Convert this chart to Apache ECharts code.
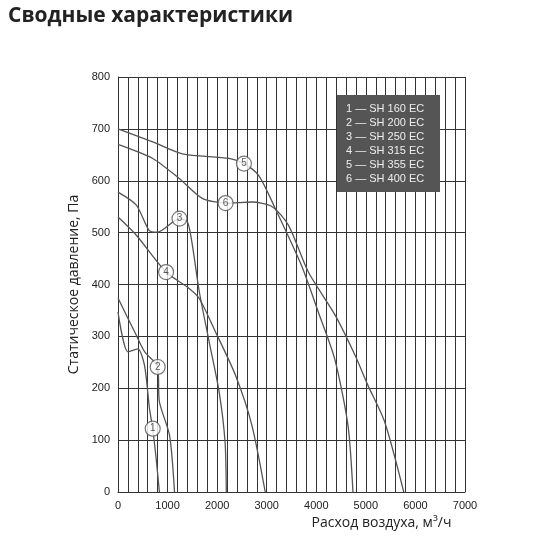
<!DOCTYPE html><html><head><meta charset="utf-8"><script src="https://cdn.jsdelivr.net/npm/echarts@6/dist/echarts.min.js"></script></head><body style="margin:0"><div id="c" style="width:550px;height:550px"></div><script>
const names=['1 — SH 160 EC','2 — SH 200 EC','3 — SH 250 EC','4 — SH 315 EC','5 — SH 355 EC','6 — SH 400 EC'];
const c1=[[0,347],[200,270],[400,276],[535,244],[635,161],[700,122],[770,64],[835,0]];
const c2=[[0,374],[370,302],[540,270],[800,241],[835,174],[1040,109],[1140,0]];
const c3=[[0,578],[370,553],[630,504],[800,501],[1240,527],[1400,521],[1500,476],[1640,386],[1840,289],[2040,193],[2160,96],[2185,0]];
const c4=[[0,530],[370,495],[970,424],[1440,392],[1640,373],[1970,308],[2370,225],[2700,129],[2970,0]];
const c5=[[0,700],[700,675],[1300,652],[2240,643],[2540,633],[2840,610],[3170,547],[3700,437],[4040,347],[4370,257],[4640,128],[4740,0]];
const c6=[[0,670],[700,643],[1240,604],[1700,566],[2170,557],[2700,559],[3110,550],[3440,514],[3840,424],[4380,341],[4780,264],[5040,206],[5380,135],[5765,0]];
const labelPts=[[700,122,'1'],[800,241,'2'],[1240,527,'3'],[970,424,'4'],[2540,633,'5'],[2170,557,'6']];
const curves=[c1,c2,c3,c4,c5,c6];
const ch=echarts.init(document.getElementById('c'));
const series=curves.map(d=>({type:'line',data:d,smooth:0.25,symbol:'none',lineStyle:{color:'#555',width:1.3},z:3}));
series.push({type:'scatter',data:labelPts,symbol:'circle',symbolSize:15,itemStyle:{color:'#fff',borderColor:'#555',borderWidth:1.2},label:{show:true,position:'inside',formatter:p=>p.value[2],fontSize:10,color:'#333',fontFamily:'Liberation Sans'},z:5});
ch.setOption({animation:false,
title:{text:'Сводные характеристики',left:3,top:1,textStyle:{fontFamily:'Open Sans',fontSize:21,fontWeight:'bold',color:'#222'}},
grid:{left:118,right:85,top:77,bottom:58},
xAxis:{type:'value',min:0,max:7000,interval:200,name:'Расход воздуха, м³/ч',nameLocation:'middle',nameGap:24,nameTextStyle:{fontSize:14,color:'#222',padding:[0,0,0,180],fontFamily:'Open Sans'},
axisLabel:{fontSize:11,color:'#222',formatter:v=>v%1000===0?v:''},axisTick:{show:false},axisLine:{lineStyle:{color:'#333'}},splitLine:{lineStyle:{color:'#333',width:1}}},
yAxis:{type:'value',min:0,max:800,interval:100,name:'Статическое давление, Па',nameLocation:'middle',nameGap:30,nameTextStyle:{fontSize:14,color:'#222',fontFamily:'Open Sans'},
axisLabel:{fontSize:11,color:'#222'},axisTick:{show:false},axisLine:{show:true,lineStyle:{color:'#333'}},splitLine:{lineStyle:{color:'#333',width:1}}},
graphic:[{type:'rect',left:337,top:95,shape:{width:103,height:97},style:{fill:'#555'},z:10},
{type:'text',left:346,top:102,style:{text:names.join('\n'),fill:'#eee',fontSize:11,lineHeight:14,fontFamily:'Liberation Sans'},z:11}],
series});
</script></body></html>
